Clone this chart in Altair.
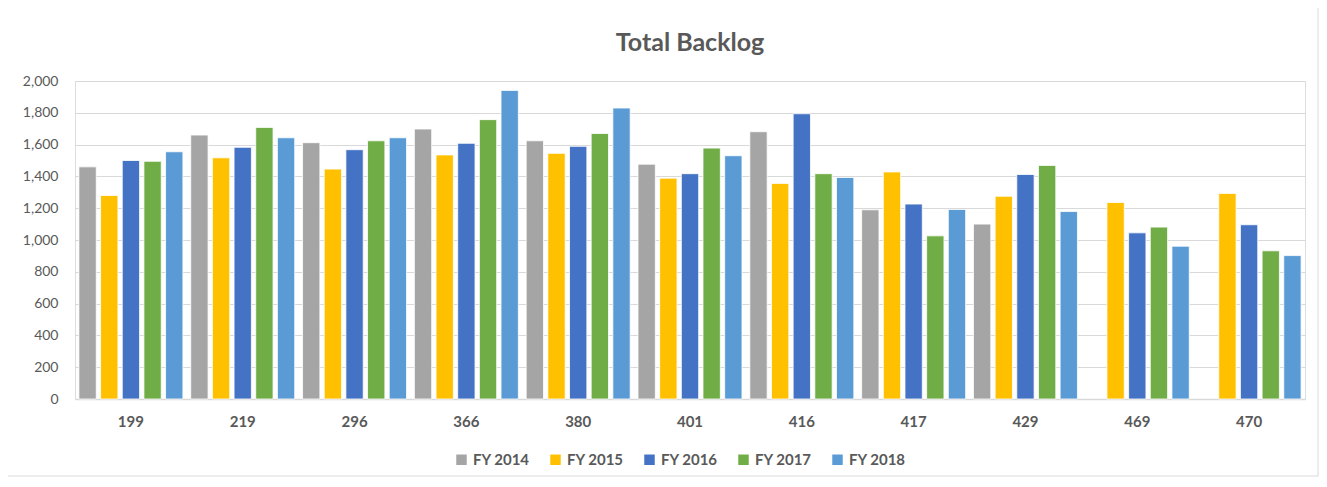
import altair as alt
import pandas as pd

categories = ["199", "219", "296", "366", "380", "401", "416", "417", "429", "469", "470"]
series = ["FY 2014", "FY 2015", "FY 2016", "FY 2017", "FY 2018"]
fy2014 = [1460, 1660, 1612, 1698, 1624, 1477, 1681, 1190, 1100, None, None]
fy2015 = [1280, 1517, 1446, 1535, 1545, 1389, 1356, 1428, 1275, 1236, 1293]
fy2016 = [1500, 1583, 1568, 1608, 1589, 1417, 1794, 1226, 1412, 1045, 1096]
fy2017 = [1495, 1708, 1624, 1757, 1670, 1578, 1417, 1026, 1469, 1081, 932]
fy2018 = [1555, 1643, 1643, 1941, 1830, 1530, 1393, 1192, 1179, 961, 902]
colors = ["#A5A5A5", "#FFC000", "#4472C4", "#70AD47", "#5B9BD5"]

rows = []
for name, vals in zip(series, [fy2014, fy2015, fy2016, fy2017, fy2018]):
    for c, v in zip(categories, vals):
        if v is not None:
            rows.append({"Category": c, "Series": name, "Value": v})
df = pd.DataFrame(rows)

FONT = "Lato"
TXT = "#595959"
W, H = 1230, 318

bars = alt.Chart(df).mark_bar(stroke="white", strokeWidth=0.8).encode(
    x=alt.X("Category:N", sort=categories, title=None,
            scale=alt.Scale(paddingInner=0.07, paddingOuter=0.035),
            axis=alt.Axis(labelAngle=0, labelFont=FONT, labelFontSize=15,
                          labelFontWeight="bold", labelColor=TXT, ticks=False,
                          domainColor="#D9D9D9", domainWidth=1.5, labelPadding=15,
                          grid=False)),
    xOffset=alt.XOffset("Series:N", sort=series, scale=alt.Scale(paddingInner=0.2)),
    y=alt.Y("Value:Q", title=None,
            scale=alt.Scale(domain=[0, 2000]),
            axis=alt.Axis(values=list(range(0, 2001, 200)), format=",d",
                          labelFont=FONT, labelFontSize=14, labelColor=TXT,
                          ticks=False, domain=False, gridColor="#D9D9D9",
                          gridWidth=1, labelPadding=17)),
    color=alt.Color("Series:N", sort=series,
                    scale=alt.Scale(domain=series, range=colors),
                    legend=alt.Legend(title=None, orient="none", direction="horizontal",
                                      legendX=379, legendY=371,
                                      symbolType="square", symbolSize=110,
                                      symbolStrokeWidth=0,
                                      labelFont=FONT, labelFontSize=15,
                                      labelFontWeight="bold", labelColor=TXT,
                                      columnPadding=18)),
)

frame = alt.Chart(pd.DataFrame({"a": [0]})).mark_rect(
    fill=None, stroke="#D9D9D9", strokeWidth=1
).encode(
    x=alt.value(-71), x2=alt.value(W + 13),
    y=alt.value(-74), y2=alt.value(H + 77),
)

chart = alt.layer(frame, bars).properties(
    width=W, height=H,
    autosize=alt.AutoSizeParams(type="none"),
    padding={"left": 67, "top": 73, "right": 14, "bottom": 78},
    title=alt.Title("Total Backlog", font=FONT, fontSize=25, fontWeight="bold",
                    color=TXT, anchor="middle", offset=0, dy=49),
).configure_view(stroke=None).configure(background="white")

chart.save("out.html", embed_options={"renderer": "svg", "actions": False})
